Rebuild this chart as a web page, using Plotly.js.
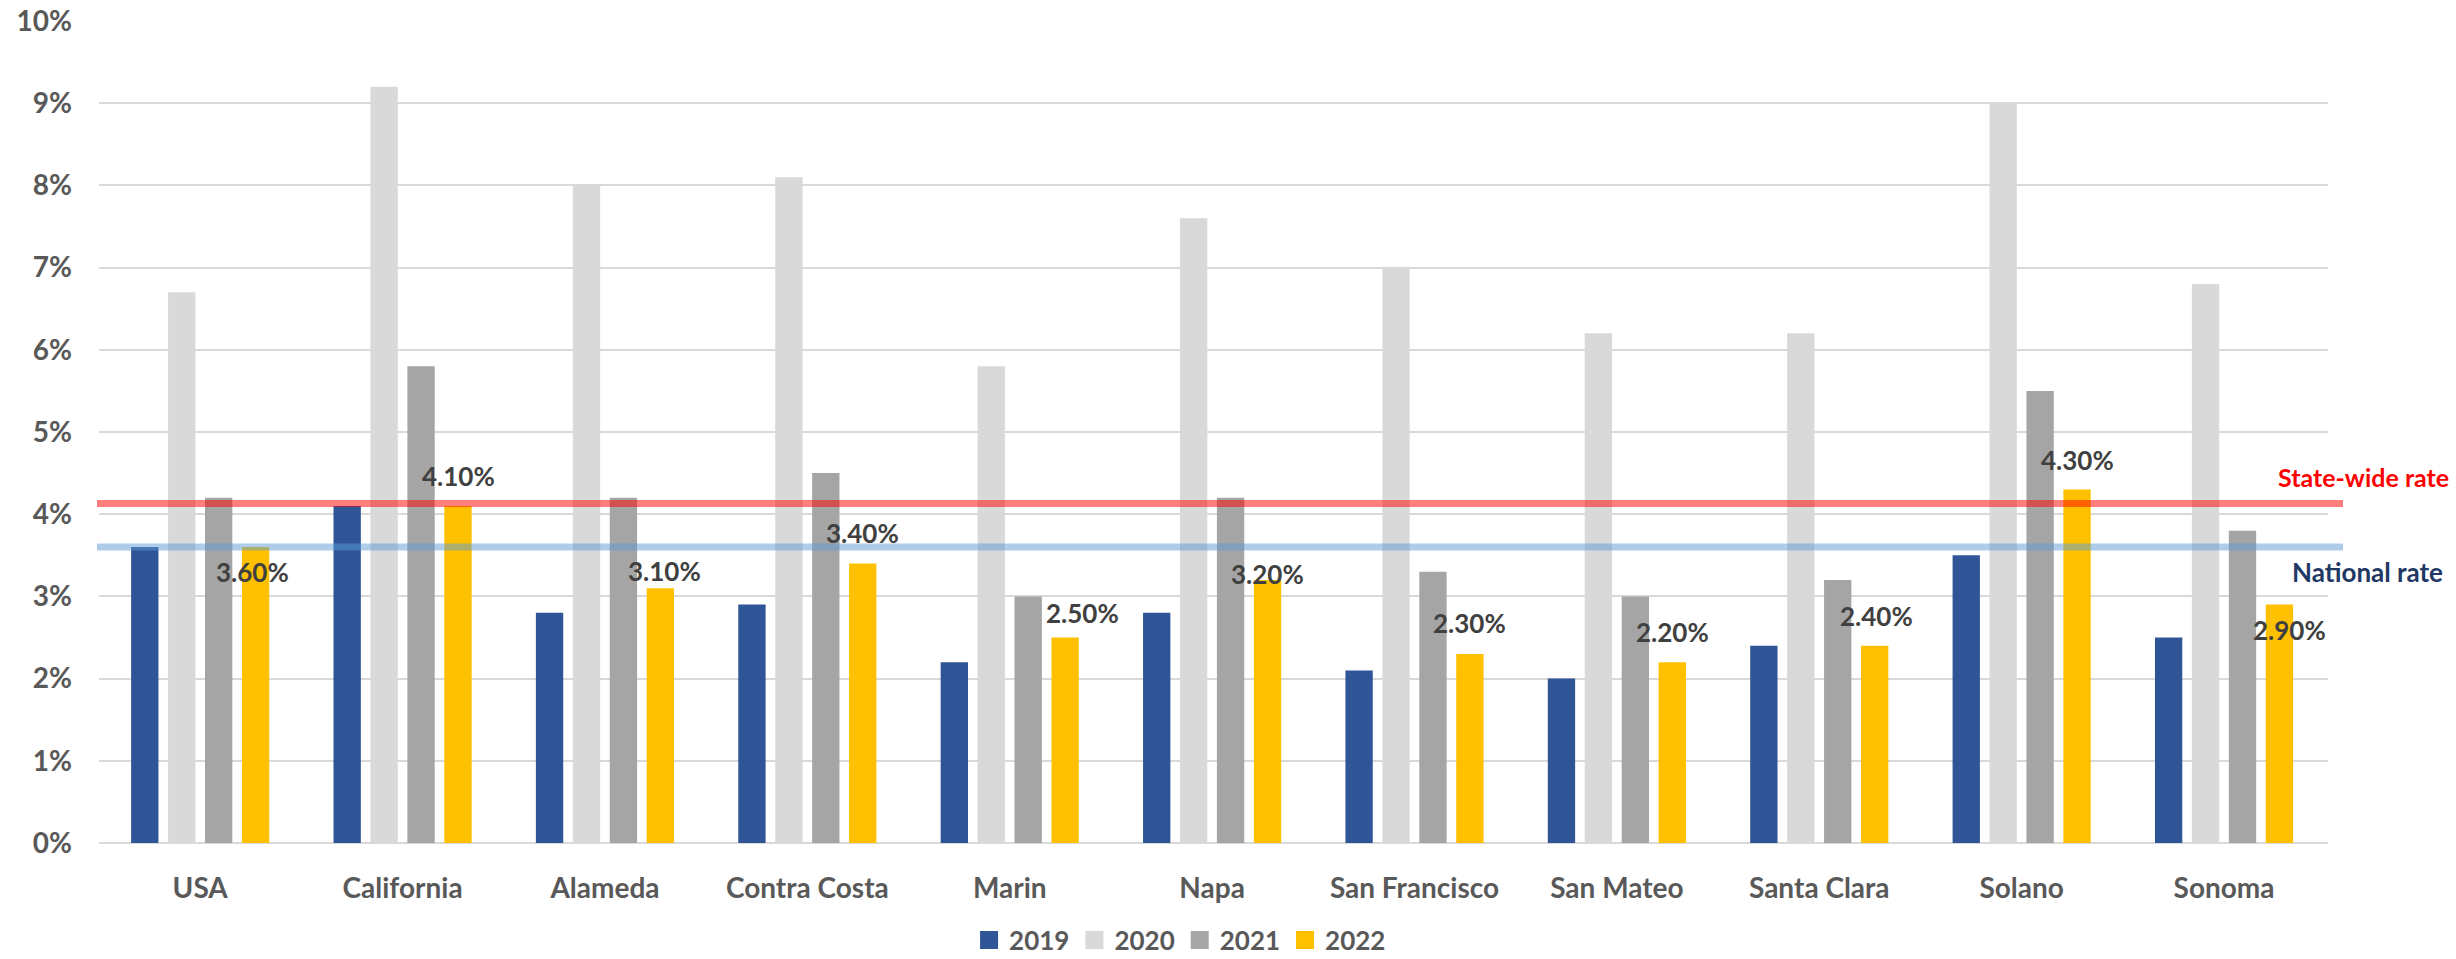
<!DOCTYPE html>
<html>
<head>
<meta charset="utf-8">
<script src="https://cdn.plot.ly/plotly-3.0.1.min.js"></script>
<style>
  html, body { margin: 0; padding: 0; background: #ffffff; }
  #chart { width: 2456px; height: 959px; }
</style>
</head>
<body>
<div id="chart"></div>
<script>
// ---- Data (unemployment rate, fraction) ----
const categories = ["USA", "California", "Alameda", "Contra Costa", "Marin", "Napa",
  "San Francisco", "San Mateo", "Santa Clara", "Solano", "Sonoma"];
const years = ["2019", "2020", "2021", "2022"];
const rate2019 = [0.036, 0.041, 0.028, 0.029, 0.022, 0.028, 0.021, 0.020, 0.024, 0.035, 0.025];
const rate2020 = [0.067, 0.092, 0.080, 0.081, 0.058, 0.076, 0.070, 0.062, 0.062, 0.090, 0.068];
const rate2021 = [0.042, 0.058, 0.042, 0.045, 0.030, 0.042, 0.033, 0.030, 0.032, 0.055, 0.038];
const rate2022 = [0.036, 0.041, 0.031, 0.034, 0.025, 0.032, 0.023, 0.022, 0.024, 0.043, 0.029];
const stateRate = 0.0413;
const nationalRate = 0.036;
const stateLabel = "State-wide rate";
const nationalLabel = "National rate";

// ---- Styles ----
const colors = ["#2F5597", "#D9D9D9", "#A5A5A5", "#FFC000"];
const FONT = "Lato, 'Open Sans', sans-serif";
// label placement tweaks (pixels) for 2022 data labels, as placed in the original
const labelDx = [-3, 0, 4, 0, 17, 0, 0, 0, 2, 0, 10];
const labelDy = [-25, 30, 17, 31, 25, 6, 31, 30, 30, 30, -25];

const W = 2456, H = 959;
const M = {l: 99, r: 128, t: 21, b: 116, autoexpand: false};
const plotW = W - M.l - M.r;
const plotH = H - M.t - M.b;
const bargap = 0.27, bargroupgap = 0.26;
const catW = plotW / categories.length;
const slot = (1 - bargap) * catW / years.length;
const lastBarShift = slot * 1.5;

const series = [rate2019, rate2020, rate2021, rate2022];
const traces = series.map((vals, i) => ({
  type: "bar",
  name: years[i],
  x: categories,
  y: vals,
  marker: {color: colors[i]},
  hoverinfo: "name+y"
}));

const annotations = rate2022.map((v, i) => ({
  xref: "x", yref: "y",
  x: categories[i], y: v,
  text: (v * 100).toFixed(2) + "%",
  showarrow: false,
  xanchor: "center", yanchor: "middle",
  xshift: lastBarShift + labelDx[i],
  yshift: labelDy[i],
  font: {family: FONT, size: 26, color: "#404040", weight: 700}
}));

annotations.push({
  xref: "paper", yref: "paper",
  x: (2276 - M.l) / plotW, y: (843 - 477) / plotH,
  xanchor: "left", yanchor: "middle",
  text: stateLabel, showarrow: false,
  font: {family: FONT, size: 25, color: "#FF0000", weight: 700}
});
annotations.push({
  xref: "paper", yref: "paper",
  x: (2290 - M.l) / plotW, y: (843 - 572) / plotH,
  xanchor: "left", yanchor: "middle",
  text: nationalLabel, showarrow: false,
  font: {family: FONT, size: 26, color: "#1F3864", weight: 700}
});

const lineX0 = -2 / plotW, lineX1 = (2343 - M.l) / plotW;
const shapes = [
  {type: "line", xref: "paper", yref: "y", x0: lineX0, x1: lineX1, y0: stateRate, y1: stateRate,
   line: {color: "rgba(255,0,0,0.5)", width: 7}, layer: "above"},
  {type: "line", xref: "paper", yref: "y", x0: lineX0, x1: lineX1, y0: nationalRate, y1: nationalRate,
   line: {color: "rgba(91,155,213,0.5)", width: 7}, layer: "above"}
];

const layout = {
  width: W, height: H,
  margin: M,
  paper_bgcolor: "#ffffff",
  plot_bgcolor: "#ffffff",
  barmode: "group",
  bargap: bargap,
  bargroupgap: bargroupgap,
  showlegend: true,
  legend: {
    orientation: "h",
    x: 0.485, xanchor: "center",
    y: -97 / plotH, yanchor: "middle",
    font: {family: FONT, size: 26, color: "#595959", weight: 700},
    itemwidth: 30,
    traceorder: "normal"
  },
  xaxis: {
    type: "category",
    showgrid: false,
    showline: false,
    ticks: "",
    ticklabelstandoff: 26,
    tickfont: {family: FONT, size: 28, color: "#595959", weight: 700},
    fixedrange: true
  },
  yaxis: {
    range: [0, 0.1],
    dtick: 0.01,
    tickformat: ".0%",
    showgrid: true,
    gridcolor: "#D9D9D9",
    gridwidth: 2,
    zeroline: true,
    zerolinecolor: "#D9D9D9",
    zerolinewidth: 2,
    showline: false,
    ticks: "",
    ticklabelstandoff: 26,
    tickfont: {family: FONT, size: 28, color: "#595959", weight: 700},
    fixedrange: true
  },
  shapes: shapes,
  annotations: annotations
};

Plotly.newPlot("chart", traces, layout, {displayModeBar: false, staticPlot: true}).then(gd => {
  // enlarge the legend colour squares to match the original's 18px swatches
  gd.querySelectorAll(".legend .legendpoints path").forEach(p => {
    const t = p.getAttribute("transform") || "";
    p.setAttribute("transform", t + " scale(1.5)");
  });
});
</script>
</body>
</html>
